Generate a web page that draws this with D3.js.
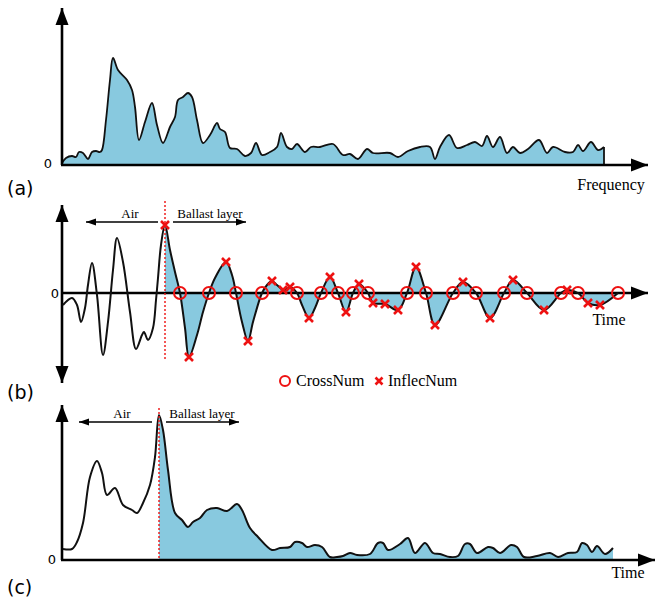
<!DOCTYPE html>
<html><head><meta charset="utf-8">
<script src="https://cdn.jsdelivr.net/npm/d3@7"></script>
<style>html,body{margin:0;padding:0;background:#fff;}svg{display:block;}</style>
</head><body>
<svg id="chart" width="656" height="602"></svg>
<script>
// ---------- DATA ----------
// (a) frequency spectrum
const freqA = [0,4,10,14,17,21,26,30,34,38,40,44,48,51,56,65,70,73,77,83,90,95,101,108,113,116,121,126,130,135,141,148,155,158,163,168,175,183,189,194,200,208,215,219,225,230,235,243,249,258,271,281,288,296,305,311,328,336,346,358,368,373,378,387,395,405,413,420,425,431,438,445,451,458,466,477,485,491,503,511,516,521,529,536,542];
const ampA  = [2,7,9,8,13,12,6,13,14,13,15,45,85,107,95,85,75,58,25,43,62,40,22,38,48,65,68,72,68,45,22,30,42,36,33,17,16,9,12,22,10,13,18,32,18,16,21,13,18,18,21,10,11,6,16,12,12,8,14,18,18,6,18,30,17,20,23,19,29,18,28,12,18,12,16,25,12,18,13,13,20,14,23,15,18];
// (b) GPR trace
const timeB = [1,10,15,19,23,26,30,35,41,46,51,55,61,68,74,80,82,86,91,94,96,99,103,108,113,118,123,127,135,141,147,153,164,170,174,180,186,191,200,205,210,215,221,225,228,235,240,247,253,259,268,276,284,291,297,306,311,323,336,345,354,364,373,391,401,414,428,442,451,465,482,499,505,516,526,538,556];
const ampB  = [-12,-5,-12,-29,-15,8,30,-2,-62,-29,23,55,31,-19,-56,-42,-39,-47,-35,-7,15,48,68,43,21,0,-35,-64,-42,-19,0,15,31,18,0,-29,-48,-29,0,8,12,8,3,4,6,0,-12,-25,-15,0,16,0,-19,0,9,0,-10,-11,-17,0,26,0,-32,0,11,0,-25,0,13,0,-17,0,3,0,-10,-12,0];
const crossB   = [118,147,174,200,235,259,276,291,306,345,364,391,414,442,465,499,516,556];
const inflecT  = [103,127,164,186,210,221,228,247,268,284,297,311,323,336,354,373,401,428,451,482,505,526,538];
const inflecV  = [68,-64,31,-48,12,3,6,-25,16,-19,9,-10,-11,-17,26,-32,11,-25,13,-17,3,-10,-12];
const boundaryB = 103;
// (c) envelope
const timeC = [1,10,15,21,28,35,40,45,53,61,70,75,81,88,93,97,101,106,113,120,126,131,138,145,155,165,175,180,188,196,210,218,228,233,240,245,253,260,268,275,281,288,295,308,316,321,326,338,346,353,363,371,378,388,396,403,408,415,426,431,438,449,455,462,475,488,496,506,515,520,525,530,535,543,551];
const ampC  = [11,11,18,37,83,99,87,65,72,55,50,47,57,75,103,145,130,90,47,40,33,38,42,50,52,49,56,50,32,23,10,12,13,18,17,13,15,13,3,3,4,7,5,6,17,17,10,16,22,7,17,7,6,3,4,16,16,7,13,12,7,15,13,3,4,7,3,7,8,17,15,8,14,6,12];
const boundaryC = 97;
const panelLabels = ["(a)","(b)","(c)"];
const legendLabels = ["CrossNum","InflecNum"];

// ---------- DRAW ----------
const svg = d3.select("#chart");
const FILL = "#88c9df", RED = "#ee1111";
const x = d3.scaleLinear().domain([0,586]).range([62,648]);
const yA = d3.scaleLinear().domain([0,157]).range([165,8]);
const yB = d3.scaleLinear().domain([-90,88]).range([383,205]);
const yC = d3.scaleLinear().domain([0,155]).range([560,405]);
const curve = d3.curveCatmullRom.alpha(0.5);

function arrow(g,x1,y1,x2,y2,len,hw,w){
  g.append("line").attr("x1",x1).attr("y1",y1).attr("x2",x2).attr("y2",y2)
   .attr("stroke","#000").attr("stroke-width",w);
  const a=Math.atan2(y2-y1,x2-x1), c=Math.cos(a), s=Math.sin(a);
  const bx=x2-len*c, by=y2-len*s;
  g.append("path").attr("d",`M${x2},${y2}L${bx-hw*s},${by+hw*c}L${bx+hw*s},${by-hw*c}Z`).attr("fill","#000");
}
function axisArrow(g,x1,y1,x2,y2){ arrow(g,x1,y1,x2,y2,17,6.5,2.6); }
function smallArrow(g,x1,y1,x2,y2){ arrow(g,x1,y1,x2,y2,10,3.5,1.6); }

const sans = "'DejaVu Sans', sans-serif", serif = "'Liberation Serif', 'Times New Roman', serif";

// ===== Panel (a) =====
const gA = svg.append("g");
const ptsA = freqA.map((f,i)=>[f,ampA[i]]);
const lastA = ptsA[ptsA.length-1];
gA.append("path").datum(ptsA)
  .attr("d", d3.area().x(d=>x(d[0])).y0(yA(0)).y1(d=>yA(d[1])).curve(curve))
  .attr("fill",FILL);
gA.append("path").datum(ptsA)
  .attr("d", d3.line().x(d=>x(d[0])).y(d=>yA(d[1])).curve(curve))
  .attr("fill","none").attr("stroke","#111").attr("stroke-width",1.8).attr("stroke-linejoin","round");
gA.append("line").attr("x1",x(lastA[0])).attr("x2",x(lastA[0])).attr("y1",yA(lastA[1])).attr("y2",yA(0))
  .attr("stroke","#111").attr("stroke-width",1.8);
axisArrow(gA, x(0), yA(0), x(0), yA(157));
axisArrow(gA, x(0)-1, yA(0), x(586), yA(0));
gA.append("text").attr("x",x(0)-14).attr("y",yA(0)+3).attr("text-anchor","middle")
  .attr("font-family",sans).attr("font-size",13).text("0");
gA.append("text").attr("x",611).attr("y",190).attr("text-anchor","middle")
  .attr("font-family",serif).attr("font-size",16).text("Frequency");

// ===== Panel (b) =====
const gB = svg.append("g");
const ptsB = timeB.map((t,i)=>[t,ampB[i]]);
gB.append("path").datum(ptsB.filter(d=>d[0]>=boundaryB))
  .attr("d", d3.area().x(d=>x(d[0])).y0(yB(0)).y1(d=>yB(d[1])).curve(curve))
  .attr("fill",FILL);
axisArrow(gB, x(0), yB(0), x(0), yB(88));
axisArrow(gB, x(0), yB(0), x(0), yB(-90));
axisArrow(gB, x(0)-1, yB(0), x(586), yB(0));
gB.append("path").datum(ptsB)
  .attr("d", d3.line().x(d=>x(d[0])).y(d=>yB(d[1])).curve(curve))
  .attr("fill","none").attr("stroke","#111").attr("stroke-width",2);
gB.append("line").attr("x1",x(boundaryB)).attr("x2",x(boundaryB)).attr("y1",201).attr("y2",yB(-67))
  .attr("stroke",RED).attr("stroke-width",1.4).attr("stroke-dasharray","2,2");
gB.selectAll("circle.cross").data(crossB).join("circle").attr("class","cross")
  .attr("cx",d=>x(d)).attr("cy",yB(0)).attr("r",6)
  .attr("fill","none").attr("stroke",RED).attr("stroke-width",2);
const xMark = (g,cx,cy,r)=>g.append("path")
  .attr("d",`M${cx-r},${cy-r}L${cx+r},${cy+r}M${cx-r},${cy+r}L${cx+r},${cy-r}`)
  .attr("stroke",RED).attr("stroke-width",2.6).attr("fill","none");
inflecT.forEach((t,i)=>xMark(gB,x(t),yB(inflecV[i]),4));
gB.append("text").attr("x",x(0)-7).attr("y",yB(0)+5).attr("text-anchor","middle")
  .attr("font-family",sans).attr("font-size",13).text("0");
gB.append("text").attr("x",609).attr("y",325).attr("text-anchor","middle")
  .attr("font-family",serif).attr("font-size",16).text("Time");
smallArrow(gB, 158, 222, 86, 222);
smallArrow(gB, 173, 222, 246, 222);
gB.append("text").attr("x",130).attr("y",218).attr("text-anchor","middle")
  .attr("font-family",serif).attr("font-size",13).text("Air");
gB.append("text").attr("x",210).attr("y",218).attr("text-anchor","middle")
  .attr("font-family",serif).attr("font-size",13).text("Ballast layer");
// legend
svg.append("circle").attr("cx",285).attr("cy",381).attr("r",5).attr("fill","none").attr("stroke",RED).attr("stroke-width",2);
svg.append("text").attr("x",296).attr("y",386).attr("font-family",serif).attr("font-size",16).text(legendLabels[0]);
xMark(svg,379,381,3.5);
svg.append("text").attr("x",388).attr("y",386).attr("font-family",serif).attr("font-size",16).text(legendLabels[1]);

// ===== Panel (c) =====
const gC = svg.append("g");
const ptsC = timeC.map((t,i)=>[t,ampC[i]]);
gC.append("path").datum(ptsC.filter(d=>d[0]>=boundaryC))
  .attr("d", d3.area().x(d=>x(d[0])).y0(yC(0)).y1(d=>yC(d[1])).curve(curve))
  .attr("fill",FILL);
axisArrow(gC, x(0), yC(0), x(0), yC(155));
axisArrow(gC, x(0)-1, yC(0), x(593), yC(0));
gC.append("path").datum(ptsC)
  .attr("d", d3.line().x(d=>x(d[0])).y(d=>yC(d[1])).curve(curve))
  .attr("fill","none").attr("stroke","#111").attr("stroke-width",2);
gC.append("line").attr("x1",x(boundaryC)).attr("x2",x(boundaryC)).attr("y1",408).attr("y2",yC(0))
  .attr("stroke",RED).attr("stroke-width",1.4).attr("stroke-dasharray","2,2");
gC.append("text").attr("x",x(0)-10).attr("y",yC(0)+4).attr("text-anchor","middle")
  .attr("font-family",sans).attr("font-size",13).text("0");
gC.append("text").attr("x",628).attr("y",578).attr("text-anchor","middle")
  .attr("font-family",serif).attr("font-size",16).text("Time");
smallArrow(gC, 152, 422, 79, 422);
smallArrow(gC, 166, 422, 239, 422);
gC.append("text").attr("x",122).attr("y",418).attr("text-anchor","middle")
  .attr("font-family",serif).attr("font-size",13).text("Air");
gC.append("text").attr("x",202).attr("y",418).attr("text-anchor","middle")
  .attr("font-family",serif).attr("font-size",13).text("Ballast layer");

// panel labels
[195,399,594].forEach((yy,i)=>svg.append("text").attr("x",7).attr("y",yy)
  .attr("font-family",sans).attr("font-size",19).text(panelLabels[i]));
</script>
</body></html>
